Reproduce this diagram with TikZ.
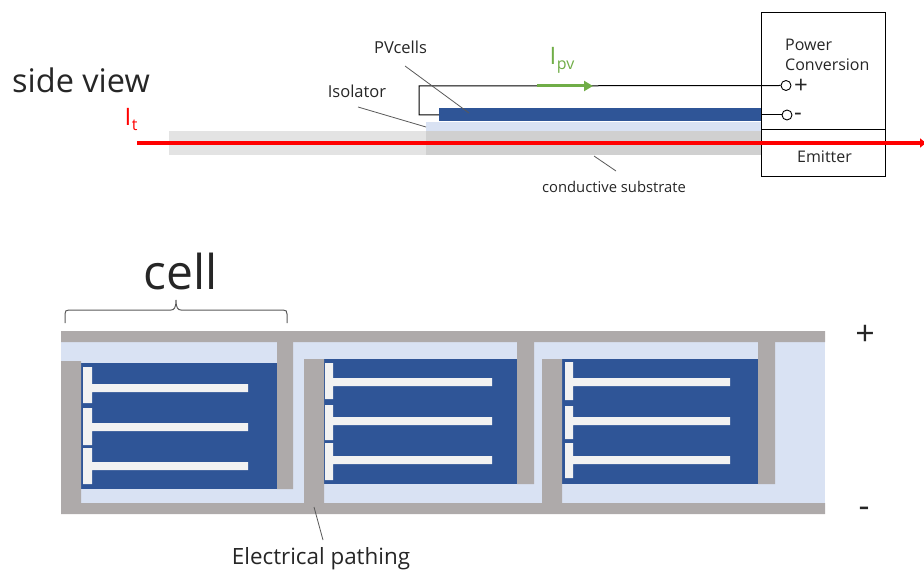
\documentclass[tikz,border=0pt]{standalone}
\usepackage{fontspec}
\setmainfont{Open Sans}
\usetikzlibrary{arrows.meta}

\definecolor{pvblue}{HTML}{2F5597}
\definecolor{isoblue}{HTML}{D9E2F3}
\definecolor{track}{HTML}{AEAAAA}
\definecolor{finger}{HTML}{F2F2F2}
\definecolor{subleft}{HTML}{E3E3E3}
\definecolor{subright}{HTML}{D0D0D0}
\definecolor{leader}{HTML}{595959}
\definecolor{ipvgreen}{HTML}{70AD47}
\definecolor{ink}{HTML}{262626}

\tikzset{
  label/.style={inner sep=0pt, text=ink, font=\fontsize{16}{18}\selectfont},
  terminal/.style={circle, draw=black, fill=white, line width=0.9pt, inner sep=0pt, minimum size=10pt},
  leaderline/.style={draw=leader, line width=0.8pt},
}

\begin{document}
\begin{tikzpicture}[x=1pt, y=-1pt]
  \useasboundingbox (0,0) rectangle (924,572);

  % side view
  \fill [subleft] (169,131) rectangle (426,155);
  \fill [subright] (426,131) rectangle (761,155);
  \fill [isoblue] (426,122) rectangle (761,131);
  \fill [pvblue] (439,108) rectangle (761,121);

  \draw [line width=1pt] (761,13) rectangle (885,177) (761,130)--(885,130);

  \node [terminal] (termplus) at (786,85.5) {};
  \node [terminal] (termminus) at (787,115) {};
  \coordinate (wirecorner) at (419,86);
  \coordinate (wirefoot) at (419,115);
  \coordinate (pvleft) at (439,115);
  \coordinate (pvright) at (761,115);
  \draw [line width=1pt] (termplus.west) -- (wirecorner) -- (wirefoot) -- (pvleft);
  \draw [line width=1pt] (pvright) -- (termminus.west);

  \coordinate (ipvstart) at (537,86);
  \coordinate (ipvend) at (593,86);
  \draw [ipvgreen, line width=3pt, -{Triangle[length=9pt, width=10pt]}] (ipvstart) -- (ipvend);

  \coordinate (itstart) at (137,143);
  \coordinate (itend) at (926,143);
  \draw [red, line width=4pt, -{Triangle[length=6pt, width=9pt]}] (itstart) -- (itend);

  \node [label, font=\fontsize{32.5}{36}\selectfont] (sideview) at (81,80) {side view};
  \node [label, text=red, font=\fontsize{24}{28}\selectfont] (it) at (131,120) {I\kern0.5pt\raisebox{-5pt}{\fontsize{16}{18}\selectfont t}};
  \node [label, text=ipvgreen, font=\fontsize{24}{28}\selectfont] (ipv) at (562,60) {I\kern0.5pt\raisebox{-5pt}{\fontsize{16}{18}\selectfont pv}};

  \node [label, font=\fontsize{16.5}{18}\selectfont] (pvcells) at (400.5,47) {PVcells};
  \node [label, font=\fontsize{16.5}{18}\selectfont] (isolator) at (357,91) {Isolator};
  \node [label, anchor=west] (power) at (785,45) {Power};
  \node [label, anchor=west] (conversion) at (785,65) {Conversion};
  \node [label, anchor=west, font=\fontsize{24}{26}\selectfont] (plus) at (794,86) {+};
  \node [label, anchor=west, font=\fontsize{24}{26}\selectfont] (minus) at (794,117) {-};
  \node [label] (emitter) at (824.5,157) {Emitter};
  \node [label, font=\fontsize{14.8}{17}\selectfont] (substrate) at (614,187) {conductive substrate};

  \coordinate (pvtop) at (405,66);
  \coordinate (pvtip) at (469,113);
  \coordinate (isotop) at (358,107);
  \coordinate (isotip) at (426,127);
  \coordinate (subtop) at (594,156);
  \coordinate (subtip) at (616,171);
  \draw [leaderline] (pvtop) -- (pvtip) (isotop) -- (isotip) (subtop) -- (subtip);

  % top view
  \fill [isoblue] (61,342) rectangle (825,503);
  \fill [track] (61,331) rectangle (825,342) (61,503) rectangle (825,514);

  \fill [pvblue] (81,363) rectangle (277,489);
  \fill [pvblue] (324,359) rectangle (517,484);
  \fill [pvblue] (562,359) rectangle (758,484);

  \fill [track] (61,361) rectangle (81,503) (277,342) rectangle (293,489);
  \fill [track] (304,359) rectangle (324,503) (517,342) rectangle (534,484);
  \fill [track] (542,359) rectangle (562,503) (758,342) rectangle (775,484);

  \fill [finger]
       (83,367) rectangle (92,403) (83,408) rectangle (92,445) (83,448) rectangle (92,484)
       (92,384) rectangle (248,392) (92,423) rectangle (248,431) (92,462) rectangle (248,470);
  \fill [finger]
       (325,363) rectangle (333,399) (325,405) rectangle (333,440) (325,443) rectangle (333,480)
       (333,378) rectangle (492,386) (333,417) rectangle (492,425) (333,456) rectangle (492,464);
  \fill [finger]
       (565,362) rectangle (573,400) (565,406) rectangle (573,439) (565,443) rectangle (573,478)
       (573,378) rectangle (730,386) (573,417) rectangle (730,425) (573,456) rectangle (730,464);

  \draw [leader, line width=1pt]
       (65,323)--(65,314) .. controls (65,311) and (66,310) .. (69,310)--(171,310)
       .. controls (174,310) and (176,308) .. (176,300)
       .. controls (176,308) and (178,310) .. (181,310)--(283,310)
       .. controls (286,310) and (287,311) .. (287,314)--(287,323);

  \node [label, font=\fontsize{48}{52}\selectfont] (cell) at (181,272) {cell};
  \node [label, font=\fontsize{34}{36}\selectfont] (topplus) at (865,335) {+};
  \node [label, font=\fontsize{34}{36}\selectfont] (topminus) at (864,512) {-};
  \node [label, font=\fontsize{22.4}{25}\selectfont] (pathing) at (321,559) {Electrical pathing};

  \coordinate (pathtop) at (323,540);
  \coordinate (pathtip) at (314,507);
  \draw [leaderline] (pathtop) -- (pathtip);
\end{tikzpicture}
\end{document}
